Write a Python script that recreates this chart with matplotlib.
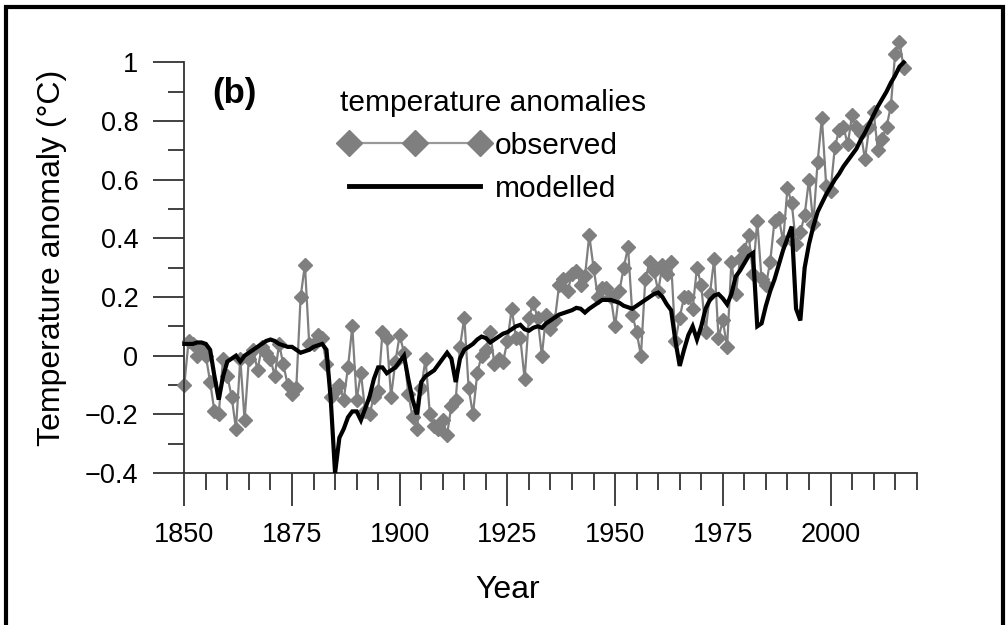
import matplotlib
matplotlib.use("Agg")
from matplotlib import pyplot as plt
from matplotlib.lines import Line2D
from matplotlib.patches import Rectangle

plt.rcParams['font.family'] = ['Liberation Sans', 'DejaVu Sans']

# data
years = list(range(1850, 2018))

observed = [
    -0.10, 0.05, 0.04, 0.00, 0.02, 0.00, -0.09, -0.19, -0.20, -0.01,   # 1850s
    -0.07, -0.14, -0.25, -0.01, -0.22, -0.01, 0.02, -0.05, 0.03, 0.01,  # 1860s
    -0.01, -0.07, 0.04, -0.03, -0.10, -0.13, -0.11, 0.20, 0.31, 0.04,   # 1870s
    0.04, 0.07, 0.06, -0.03, -0.14, -0.12, -0.10, -0.15, -0.04, 0.10,   # 1880s
    -0.15, -0.06, -0.19, -0.20, -0.14, -0.12, 0.08, 0.06, -0.14, -0.02, # 1890s
    0.07, 0.01, -0.13, -0.21, -0.25, -0.11, -0.01, -0.20, -0.24, -0.25, # 1900s
    -0.22, -0.27, -0.17, -0.15, 0.03, 0.13, -0.11, -0.20, -0.06, 0.00,  # 1910s
    0.02, 0.08, -0.03, -0.01, -0.02, 0.05, 0.16, 0.06, 0.06, -0.08,     # 1920s
    0.13, 0.18, 0.13, 0.00, 0.14, 0.09, 0.12, 0.24, 0.26, 0.22,         # 1930s
    0.28, 0.29, 0.24, 0.27, 0.41, 0.30, 0.20, 0.23, 0.23, 0.20,         # 1940s
    0.10, 0.22, 0.30, 0.37, 0.14, 0.08, 0.00, 0.26, 0.32, 0.29,         # 1950s
    0.22, 0.31, 0.28, 0.32, 0.05, 0.13, 0.20, 0.20, 0.16, 0.30,         # 1960s
    0.24, 0.08, 0.21, 0.33, 0.06, 0.12, 0.03, 0.32, 0.21, 0.33,         # 1970s
    0.36, 0.41, 0.28, 0.46, 0.26, 0.24, 0.32, 0.46, 0.47, 0.39,         # 1980s
    0.57, 0.52, 0.38, 0.42, 0.48, 0.60, 0.45, 0.66, 0.81, 0.58,         # 1990s
    0.56, 0.71, 0.77, 0.78, 0.72, 0.82, 0.78, 0.76, 0.67, 0.78,         # 2000s
    0.83, 0.70, 0.74, 0.78, 0.85, 1.03, 1.07, 0.98,                     # 2010s
]

modelled = [
    0.04, 0.04, 0.04, 0.045, 0.045, 0.04, 0.02, -0.07, -0.15, -0.07,   # 1850s
    -0.02, -0.01, 0.00, -0.02, 0.00, 0.01, 0.02, 0.03, 0.04, 0.05,     # 1860s
    0.055, 0.05, 0.04, 0.035, 0.03, 0.03, 0.02, 0.01, 0.015, 0.02,     # 1870s
    0.03, 0.035, 0.04, 0.02, -0.15, -0.40, -0.28, -0.25, -0.21, -0.19, # 1880s
    -0.19, -0.22, -0.18, -0.14, -0.08, -0.04, -0.04, -0.06, -0.05, -0.04, # 1890s
    -0.02, 0.00, -0.08, -0.15, -0.20, -0.09, -0.07, -0.06, -0.05, -0.03,  # 1900s
    -0.01, 0.01, -0.01, -0.09, -0.01, 0.02, 0.03, 0.04, 0.055, 0.065,  # 1910s
    0.06, 0.045, 0.055, 0.065, 0.075, 0.08, 0.09, 0.10, 0.105, 0.09,   # 1920s
    0.085, 0.095, 0.10, 0.095, 0.11, 0.12, 0.13, 0.14, 0.145, 0.15,    # 1930s
    0.155, 0.163, 0.16, 0.147, 0.16, 0.17, 0.18, 0.19, 0.19, 0.19,     # 1940s
    0.185, 0.18, 0.17, 0.165, 0.16, 0.17, 0.18, 0.19, 0.20, 0.21,      # 1950s
    0.215, 0.20, 0.175, 0.155, 0.05, -0.035, 0.02, 0.07, 0.10, 0.055,  # 1960s
    0.10, 0.16, 0.19, 0.205, 0.21, 0.195, 0.175, 0.21, 0.27, 0.29,     # 1970s
    0.315, 0.34, 0.35, 0.10, 0.11, 0.17, 0.22, 0.26, 0.31, 0.36,       # 1980s
    0.40, 0.44, 0.16, 0.12, 0.30, 0.38, 0.44, 0.49, 0.52, 0.55,        # 1990s
    0.575, 0.60, 0.62, 0.645, 0.665, 0.685, 0.705, 0.735, 0.76, 0.79,  # 2000s
    0.82, 0.85, 0.875, 0.90, 0.93, 0.955, 0.985, 1.00,                 # 2010s
]

xticks_major = [1850, 1875, 1900, 1925, 1950, 1975, 2000]
xticks_minor = list(range(1850, 2021, 5))
yticks_major = [-0.4, -0.2, 0, 0.2, 0.4, 0.6, 0.8, 1]
ytick_labels = ["\u22120.4", "\u22120.2", "0", "0.2", "0.4", "0.6", "0.8", "1"]
yticks_minor = [-0.3, -0.1, 0.1, 0.3, 0.5, 0.7, 0.9]

fig = plt.figure(figsize=(10.07, 6.25), dpi=100)
ax = fig.add_axes([0.1830, 0.2432, 0.7273, 0.6571])

obs_color = "#7f7f7f"
ax.plot(years, observed, color=obs_color, lw=1.6, marker="D", ms=7,
        mfc=obs_color, mec=obs_color, clip_on=False, zorder=2)
ax.plot(years, modelled, color="black", lw=3, clip_on=False, zorder=3,
        solid_joinstyle="miter")

ax.set_xlim(1850, 2020)
ax.set_ylim(-0.4, 1)

for side in ["top", "right"]:
    ax.spines[side].set_visible(False)
for side in ["left", "bottom"]:
    ax.spines[side].set_color("#333333")
    ax.spines[side].set_linewidth(1.3)

ax.set_xticks(xticks_major)
ax.set_xticks(xticks_minor, minor=True)
ax.set_yticks(yticks_major)
ax.set_yticklabels(ytick_labels)
ax.set_yticks(yticks_minor, minor=True)

ax.tick_params(axis="x", which="major", length=24, width=1.3, color="#333333",
               labelsize=19.5, pad=11)
ax.tick_params(axis="x", which="minor", length=12.5, width=1.3, color="#333333")
ax.tick_params(axis="y", which="major", length=22, width=1.3, color="#333333",
               labelsize=19.5, pad=11)
ax.tick_params(axis="y", which="minor", length=11.5, width=1.3, color="#333333")

ax.set_xlabel("Year", fontsize=23, labelpad=20, x=0.442)
ax.set_ylabel("Temperature anomaly (\u00b0C)", fontsize=23, labelpad=13, y=0.523)

ax.text(0.038, 0.925, "(b)", transform=ax.transAxes, fontsize=25,
        fontweight="bold", va="center", ha="left")

handles = [
    Line2D([], [], color="#999999", lw=1.6, marker="D", ms=13,
           mfc=obs_color, mec=obs_color),
    Line2D([], [], color="black", lw=3.5),
]
leg = ax.legend(handles, ["observed", "modelled"], title="temperature anomalies",
                loc="upper left", bbox_to_anchor=(325 / 1007, 1 - 74 / 625),
                bbox_transform=fig.transFigure, frameon=False, fontsize=21.5,
                title_fontsize=21.5, numpoints=3, handlelength=5.0,
                handletextpad=0.2, labelspacing=0.5, borderpad=0,
                alignment="left")

# thick frame around the figure
fig.patches.append(Rectangle((6 / 1007, -0.05), 997 / 1007, 1.05 - 7 / 625,
                             transform=fig.transFigure, fill=False,
                             edgecolor="black", lw=3, clip_on=False))

fig.savefig("out.png", dpi=100)
